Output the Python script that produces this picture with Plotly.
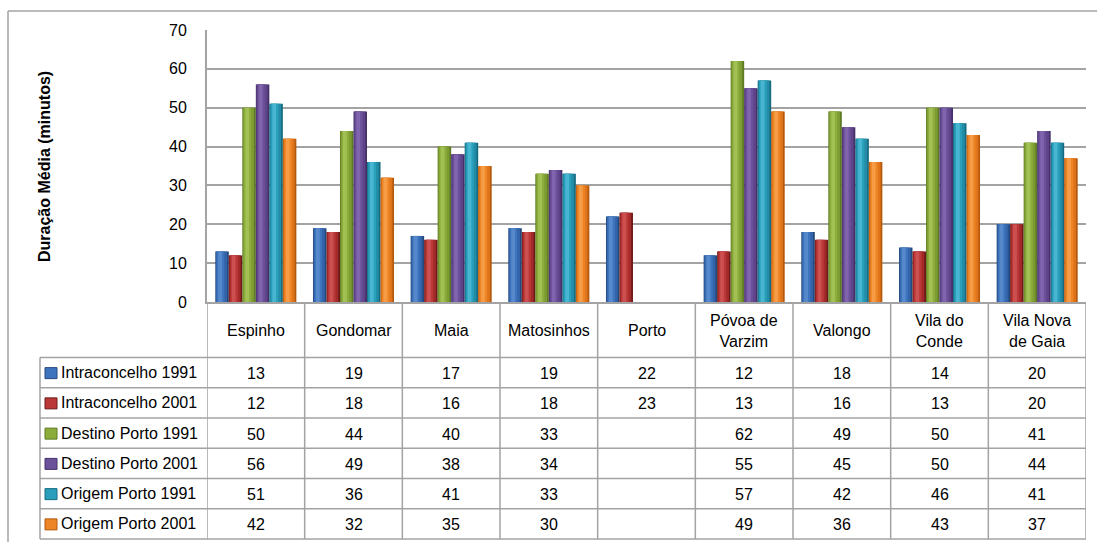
import plotly.graph_objects as go

# ---- data -------------------------------------------------------------
categories = ["Espinho", "Gondomar", "Maia", "Matosinhos", "Porto",
              "Póvoa de Varzim", "Valongo", "Vila do Conde", "Vila Nova de Gaia"]
header_labels = ["Espinho", "Gondomar", "Maia", "Matosinhos", "Porto",
                 "Póvoa de<br>Varzim", "Valongo", "Vila do<br>Conde", "Vila Nova<br>de Gaia"]

series_names = ["Intraconcelho 1991", "Intraconcelho 2001",
                "Destino Porto 1991", "Destino Porto 2001",
                "Origem Porto 1991", "Origem Porto 2001"]

intra_1991 = [13, 19, 17, 19, 22, 12, 18, 14, 20]
intra_2001 = [12, 18, 16, 18, 23, 13, 16, 13, 20]
destino_1991 = [50, 44, 40, 33, None, 62, 49, 50, 41]
destino_2001 = [56, 49, 38, 34, None, 55, 45, 50, 44]
origem_1991 = [51, 36, 41, 33, None, 57, 42, 46, 41]
origem_2001 = [42, 32, 35, 30, None, 49, 36, 43, 37]

series_values = [intra_1991, intra_2001, destino_1991,
                 destino_2001, origem_1991, origem_2001]

y_ticks = [0, 10, 20, 30, 40, 50, 60, 70]

# ---- styling ----------------------------------------------------------
# (edge, body, sheen, highlight) shades for each series' cylinder look
palette = [
    ("#24497e", "#3363a8", "#3d74bd", "#5589cc"),
    ("#6e1a1a", "#a42a2a", "#ba3838", "#cc5050"),
    ("#5e7a22", "#7c9b32", "#8cac3c", "#a2c054"),
    ("#46306a", "#5f448a", "#6b5199", "#8064ae"),
    ("#166a80", "#238da8", "#2a9fbc", "#48b6d0"),
    ("#b35a0e", "#df741a", "#ed8526", "#f69c46"),
]
GRID = "#a3a3a3"
TEXT = "#000000"
FONT = "Liberation Sans, Arial, sans-serif"

W, H = 1097, 542
PLOT_L, PLOT_R, PLOT_T, PLOT_B = 207, 1086, 30, 302
ROW_TOP, ROW_BOTTOM = 357.5, 539
LEGEND_LEFT = 40


def px(x):
    return (x - PLOT_L) / (PLOT_R - PLOT_L)


def py(y):
    return (PLOT_B - y) / (PLOT_B - PLOT_T)


n_series = len(series_values)
group_width = 0.83
bar_w = group_width / n_series
# (start fraction, width fraction, shade index) layers per bar
layers = [(0.0, 1.0, 0), (0.05, 0.82, 1), (0.12, 0.55, 2), (0.22, 0.28, 3)]

fig = go.Figure()
for s, vals in enumerate(series_values):
    base = -group_width / 2 + s * bar_w
    for start, frac, shade in layers:
        fig.add_trace(go.Bar(
            x=categories, y=vals,
            offset=base + start * bar_w, width=frac * bar_w,
            marker=dict(color=palette[s][shade], line=dict(width=0)),
            opacity=1, showlegend=False, hoverinfo="skip",
            name=series_names[s],
        ))

annotations = []
shapes = []

# category header row
for c, lab in enumerate(header_labels):
    annotations.append(dict(
        x=categories[c], xref="x", y=py((PLOT_B + ROW_TOP) / 2 + 1), yref="paper",
        text=lab, showarrow=False, xanchor="center", yanchor="middle",
        font=dict(size=16, family=FONT, color=TEXT)))

# data table rows
row_h = (ROW_BOTTOM - ROW_TOP) / n_series
for r, vals in enumerate(series_values):
    yc = ROW_TOP + (r + 0.5) * row_h
    annotations.append(dict(
        x=px(LEGEND_LEFT + 19), xref="paper", y=py(yc), yref="paper",
        text=series_names[r], showarrow=False, xanchor="left", yanchor="middle",
        font=dict(size=16, family=FONT, color=TEXT)))
    shapes.append(dict(
        type="rect", xref="paper", yref="paper",
        x0=px(LEGEND_LEFT + 5), x1=px(LEGEND_LEFT + 17),
        y0=py(yc - 5), y1=py(yc + 6),
        fillcolor=palette[r][2], line=dict(color=palette[r][0], width=1)))
    for c, v in enumerate(vals):
        if v is None:
            continue
        annotations.append(dict(
            x=categories[c], xref="x", y=py(yc + 1), yref="paper",
            text=str(v), showarrow=False, xanchor="center", yanchor="middle",
            font=dict(size=16, family=FONT, color=TEXT)))

# table grid lines
line_style = dict(color=GRID, width=1.5)
for i in range(n_series + 1):
    yy = py(ROW_TOP + i * row_h)
    shapes.append(dict(type="line", xref="paper", yref="paper",
                       x0=px(LEGEND_LEFT), x1=1, y0=yy, y1=yy, line=line_style))
for i in range(len(categories) + 1):
    shapes.append(dict(type="line", xref="x", yref="paper",
                       x0=i - 0.5, x1=i - 0.5, y0=0, y1=py(ROW_BOTTOM), line=line_style))
shapes.append(dict(type="line", xref="paper", yref="paper",
                   x0=px(LEGEND_LEFT), x1=px(LEGEND_LEFT),
                   y0=py(ROW_TOP), y1=py(ROW_BOTTOM), line=line_style))

# outer chart frame
shapes.append(dict(type="line", xref="paper", yref="paper",
                   x0=px(8), x1=px(W + 20), y0=py(11), y1=py(11), line=line_style))
shapes.append(dict(type="line", xref="paper", yref="paper",
                   x0=px(8), x1=px(8), y0=py(11), y1=py(H + 20), line=line_style))

# y axis title
annotations.append(dict(
    x=px(44), xref="paper", y=py(167), yref="paper",
    text="<b>Duração Média (minutos)</b>", textangle=-90, showarrow=False,
    xanchor="center", yanchor="middle",
    font=dict(size=16, family=FONT, color=TEXT)))

fig.update_layout(
    width=W, height=H,
    margin=dict(l=PLOT_L, r=W - PLOT_R, t=PLOT_T, b=H - PLOT_B),
    paper_bgcolor="white", plot_bgcolor="white",
    barmode="overlay",
    font=dict(family=FONT, size=16, color=TEXT),
    xaxis=dict(type="category", categoryorder="array", categoryarray=categories,
               range=[-0.5, len(categories) - 0.5], showticklabels=False,
               showgrid=False, showline=True, linecolor=GRID, linewidth=2,
               zeroline=False, ticks=""),
    yaxis=dict(range=[0, 70], tickvals=y_ticks, showgrid=True, gridcolor=GRID,
               gridwidth=1.5, showline=True, linecolor=GRID, linewidth=2,
               zeroline=False, ticks="", ticklabelstandoff=15,
               tickfont=dict(size=16, family=FONT, color=TEXT)),
    annotations=annotations,
    shapes=shapes,
)

fig.write_html("out.html")
